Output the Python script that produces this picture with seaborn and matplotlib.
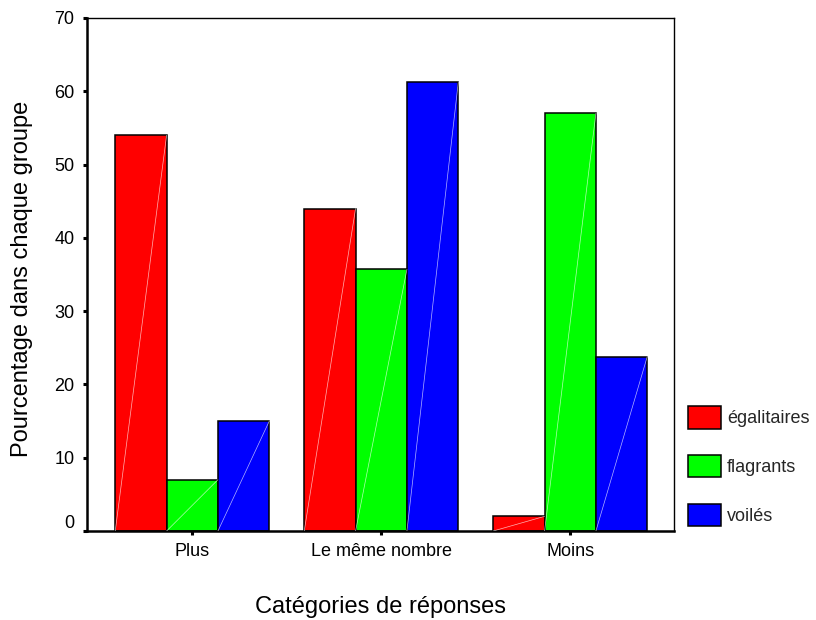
import pandas as pd
import matplotlib
matplotlib.use('Agg')
import matplotlib.pyplot as plt
import matplotlib.transforms as mtransforms
import seaborn as sns

## Data
categories = ['Plus', 'Le même nombre', 'Moins']
groups = ['égalitaires', 'flagrants', 'voilés']
egalitaires = [54.0, 44.0, 2.0]
flagrants = [7.0, 35.7, 57.0]
voiles = [15.0, 61.2, 23.8]
colors = ['#ff0000', '#00ff00', '#0000ff']

df = pd.DataFrame({
    'categorie': categories * 3,
    'groupe': [g for g in groups for _ in categories],
    'pct': egalitaires + flagrants + voiles,
})

sns.set_style('white')
plt.rcParams['font.family'] = ['Liberation Sans', 'DejaVu Sans']

fig = plt.figure(figsize=(8.16, 6.2), dpi=100)
ax = fig.add_axes([87 / 816, 1 - 531 / 620, 587 / 816, 513 / 620])

sns.barplot(data=df, x='categorie', y='pct', hue='groupe',
            order=categories, hue_order=groups, palette=colors,
            saturation=1, width=0.815, edgecolor='black', linewidth=1.1,
            ax=ax)

## thin white diagonal inside each bar
for cont in ax.containers:
    for p in cont:
        x0, w, h = p.get_x(), p.get_width(), p.get_height()
        ax.plot([x0, x0 + w], [0, h], color='white', lw=0.5, alpha=0.7, zorder=3)

ax.set_ylim(0, 70)
ax.set_yticks(range(0, 71, 10))
ax.set_xlim(-0.557, 2.549)

ax.set_xlabel('Catégories de réponses', fontsize=17, color='black')
ax.set_ylabel('Pourcentage dans chaque groupe', fontsize=17, color='black')
ax.xaxis.set_label_coords(0.5, -0.127)
ax.yaxis.set_label_coords(-0.092, 0.492)

ax.tick_params(axis='both', bottom=True, left=True, direction='out',
               length=3, width=2.2, pad=6, labelsize=13,
               color='black', labelcolor='black')

for side in ['left', 'bottom']:
    ax.spines[side].set_linewidth(1.8)
    ax.spines[side].set_color('black')
for side in ['top', 'right']:
    ax.spines[side].set_linewidth(1.0)
    ax.spines[side].set_color('black')

# the "0" label sits a bit above its tick
zero = ax.yaxis.get_major_ticks()[0].label1
zero.set_transform(zero.get_transform() +
                   mtransforms.ScaledTranslation(0, 0.1, fig.dpi_scale_trans))

sns.move_legend(ax, 'upper left', bbox_to_anchor=(688 / 816, 1 - 406 / 620),
                bbox_transform=fig.transFigure, frameon=False, title=None,
                fontsize=13, handlelength=1.85, handleheight=1.55,
                handletextpad=0.3, labelspacing=1.45, borderpad=0,
                borderaxespad=0)
leg = ax.get_legend()
for h in leg.legend_handles:
    h.set_edgecolor('black')
    h.set_linewidth(1.1)

fig.savefig('out.png', dpi=100)
